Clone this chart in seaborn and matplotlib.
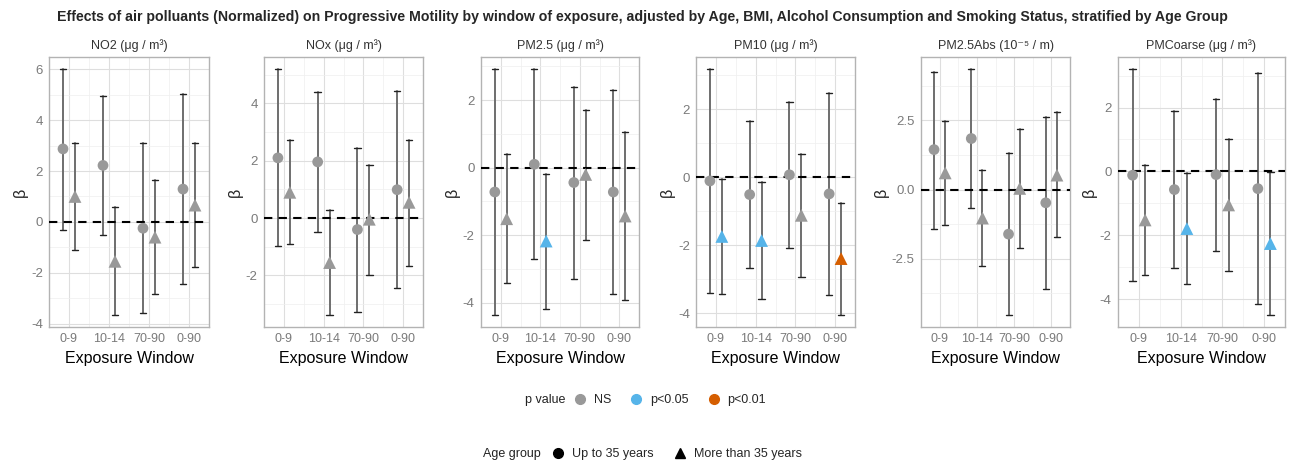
import numpy as np
import pandas as pd
import matplotlib
matplotlib.use('Agg')
import matplotlib.pyplot as plt
import seaborn as sns
from matplotlib.lines import Line2D
from matplotlib.ticker import MultipleLocator, FormatStrFormatter

sns.set_style('white')
plt.rcParams['font.family'] = ['Liberation Sans', 'DejaVu Sans']
plt.rcParams['axes.unicode_minus'] = False

# --- data ---
windows = ['0-9', '10-14', '70-90', '0-90']
pollutants = ['NO2 (μg / m³)', 'NOx (μg / m³)', 'PM2.5 (μg / m³)',
              'PM10 (μg / m³)', 'PM2.5Abs (10⁻⁵ / m)', 'PMCoarse (μg / m³)']
age_groups = ['Up to 35 years', 'More than 35 years']
p_levels = ['NS', 'p<0.05', 'p<0.01']

beta_young = [[2.87, 2.22, -0.25, 1.29],
              [2.10, 1.96, -0.40, 0.99],
              [-0.72, 0.10, -0.44, -0.72],
              [-0.11, -0.51, 0.07, -0.49],
              [1.44, 1.84, -1.61, -0.48],
              [-0.12, -0.57, -0.10, -0.54]]
lo_young = [[-0.30, -0.52, -3.60, -2.45],
            [-0.99, -0.47, -3.27, -2.43],
            [-4.35, -2.71, -3.28, -3.74],
            [-3.39, -2.67, -2.07, -3.45],
            [-1.43, -0.66, -4.52, -3.59],
            [-3.43, -3.04, -2.49, -4.15]]
hi_young = [[6.00, 4.95, 3.10, 5.03],
            [5.19, 4.40, 2.45, 4.42],
            [2.91, 2.91, 2.39, 2.31],
            [3.17, 1.65, 2.21, 2.47],
            [4.25, 4.34, 1.30, 2.63],
            [3.20, 1.90, 2.28, 3.07]]
p_young = [['NS'] * 4 for _ in range(6)]

beta_old = [[1.00, -1.55, -0.60, 0.66],
            [0.90, -1.55, -0.04, 0.55],
            [-1.51, -2.17, -0.20, -1.43],
            [-1.74, -1.86, -1.12, -2.39],
            [0.60, -1.03, 0.04, 0.52],
            [-1.52, -1.79, -1.05, -2.26]]
lo_old = [[-1.12, -3.65, -2.82, -1.78],
          [-0.92, -3.37, -1.97, -1.68],
          [-3.41, -4.17, -2.15, -3.90],
          [-3.42, -3.58, -2.92, -4.04],
          [-1.27, -2.77, -2.10, -1.73],
          [-3.24, -3.52, -3.12, -4.49]]
hi_old = [[3.10, 0.58, 1.63, 3.10],
          [2.72, 0.27, 1.84, 2.72],
          [0.39, -0.18, 1.70, 1.04],
          [-0.05, -0.14, 0.68, -0.75],
          [2.47, 0.71, 2.17, 2.78],
          [0.20, -0.06, 1.03, -0.02]]
p_old = [['NS', 'NS', 'NS', 'NS'],
         ['NS', 'NS', 'NS', 'NS'],
         ['NS', 'p<0.05', 'NS', 'NS'],
         ['p<0.05', 'p<0.05', 'NS', 'p<0.01'],
         ['NS', 'NS', 'NS', 'NS'],
         ['NS', 'p<0.05', 'NS', 'p<0.05']]

y_step = [2, 2, 2, 2, 2.5, 2]

# long table
rows = []
for i, pol in enumerate(pollutants):
    for j, w in enumerate(windows):
        rows.append(dict(pollutant=pol, window=w, wi=j, age=age_groups[0],
                         beta=beta_young[i][j], lo=lo_young[i][j],
                         hi=hi_young[i][j], p=p_young[i][j]))
        rows.append(dict(pollutant=pol, window=w, wi=j, age=age_groups[1],
                         beta=beta_old[i][j], lo=lo_old[i][j],
                         hi=hi_old[i][j], p=p_old[i][j]))
df = pd.DataFrame(rows)
dodge = {age_groups[0]: -0.15, age_groups[1]: 0.15}
df['x'] = df['wi'] + df['age'].map(dodge)

palette = {'NS': '#999999', 'p<0.05': '#56B4E9', 'p<0.01': '#D55E00'}
markers = {age_groups[0]: 'o', age_groups[1]: '^'}
sizes = {age_groups[0]: 60, age_groups[1]: 85}

fig = plt.figure(figsize=(12.9, 4.66), dpi=100)
W, H = 1290, 466
panels_px = [(49, 209), (264, 423), (481, 639), (696, 855), (921, 1070), (1118, 1285)]
top_px, bot_px = 57, 327

fig.suptitle('Effects of air polluants (Normalized) on Progressive Motility by window of exposure, '
             'adjusted by Age, BMI, Alcohol Consumption and Smoking Status, stratified by Age Group',
             x=0.498, y=1 - 17 / H, fontsize=10.2, fontweight='bold', va='center')

for i, pol in enumerate(pollutants):
    x0, x1 = panels_px[i]
    ax = fig.add_axes([x0 / W, (H - bot_px) / H, (x1 - x0) / W, (bot_px - top_px) / H])
    sub = df[df['pollutant'] == pol]

    # error bars
    cap = 0.08
    for _, r in sub.iterrows():
        ax.plot([r.x, r.x], [r.lo, r.hi], color='#6e6e6e', lw=1.4, zorder=2)
        ax.plot([r.x - cap, r.x + cap], [r.lo, r.lo], color='#222222', lw=1.0, zorder=2)
        ax.plot([r.x - cap, r.x + cap], [r.hi, r.hi], color='#222222', lw=1.0, zorder=2)

    ax.axhline(0, color='black', lw=1.5, ls=(0, (4, 3)), zorder=3)

    for age in age_groups:
        sns.scatterplot(data=sub[sub['age'] == age], x='x', y='beta', hue='p',
                        palette=palette, marker=markers[age], s=sizes[age],
                        edgecolor='none', legend=False, ax=ax, zorder=4)

    lo, hi = sub['lo'].min(), sub['hi'].max()
    pad = (hi - lo) * 0.05
    ax.set_ylim(lo - pad, hi + pad)
    ax.set_xlim(-0.47, 3.47)
    ax.set_xticks(range(len(windows)))
    ax.set_xticklabels(windows)
    ax.set_xticks(np.arange(-0.5, 3.6, 1), minor=True)
    ax.yaxis.set_major_locator(MultipleLocator(y_step[i]))
    ax.yaxis.set_minor_locator(MultipleLocator(y_step[i] / 2))
    if y_step[i] != int(y_step[i]):
        ax.yaxis.set_major_formatter(FormatStrFormatter('%.1f'))
    else:
        ax.yaxis.set_major_formatter(FormatStrFormatter('%d'))

    ax.grid(True, which='major', color='#dedede', lw=0.8, zorder=0)
    ax.grid(True, which='minor', color='#efefef', lw=0.5, zorder=0)
    ax.set_axisbelow(True)
    for s in ax.spines.values():
        s.set_color('#b3b3b3')
        s.set_linewidth(1.0)
    ax.tick_params(which='major', length=2.5, color='#b3b3b3', labelsize=9.5,
                   labelcolor='#7a7a7a', pad=2)
    ax.tick_params(axis='x', which='major', labelsize=9)
    ax.tick_params(which='minor', length=0)

    ax.set_title(pol, fontsize=9, color='#333333', pad=6)
    ax.set_xlabel('Exposure Window', fontsize=11.5, color='black', labelpad=4)
    ax.set_ylabel('β', fontsize=11.5, color='#222222', labelpad=2)

# legends
fig.text(525 / W, 1 - 400 / H, 'p value', fontsize=9, va='center', ha='left', color='#222222')
h_p = [Line2D([], [], ls='none', marker='o', color=palette[k], markersize=7) for k in p_levels]
fig.legend(h_p, p_levels, loc='center left', bbox_to_anchor=(574 / W, 1 - 400 / H),
           ncol=3, frameon=False, fontsize=9, handlelength=1.0, handletextpad=0.6,
           columnspacing=1.5, borderpad=0, borderaxespad=0)

fig.text(483 / W, 1 - 454 / H, 'Age group', fontsize=9, va='center', ha='left', color='#222222')
h_a = [Line2D([], [], ls='none', marker=markers[k], color='black', markersize=7) for k in age_groups]
fig.legend(h_a, age_groups, loc='center left', bbox_to_anchor=(552 / W, 1 - 454 / H),
           ncol=2, frameon=False, fontsize=9, handlelength=1.0, handletextpad=0.6,
           columnspacing=1.6, borderpad=0, borderaxespad=0)

fig.savefig('out.png', dpi=100)
